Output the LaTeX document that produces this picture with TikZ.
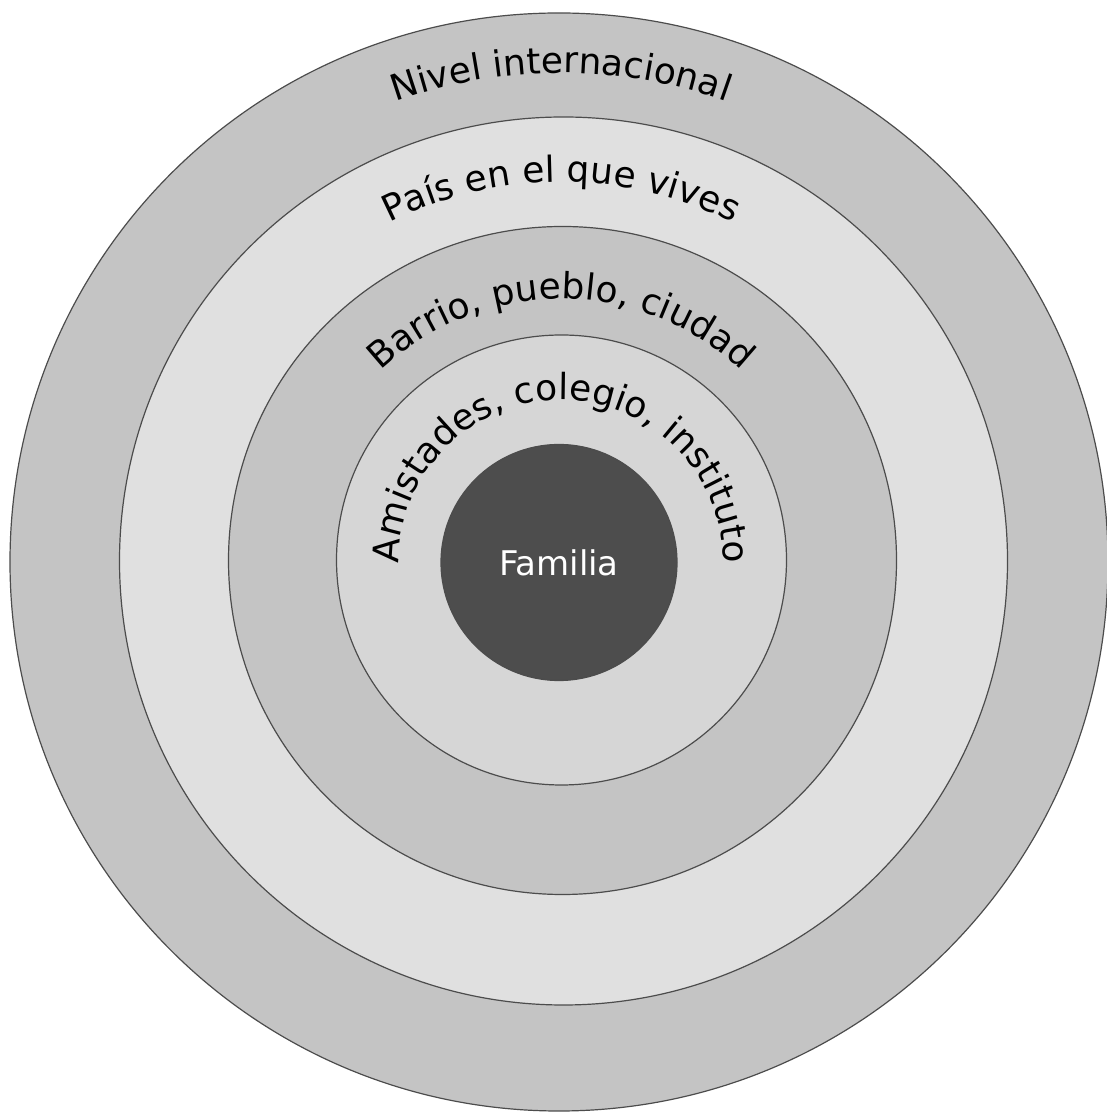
\documentclass[tikz,border=0pt]{standalone}
\usepackage{fontspec}
\setmainfont{DejaVu Sans}
\usepackage{tikz}
\usetikzlibrary{decorations.text}

\definecolor{ringdark}{HTML}{C4C4C4}
\definecolor{ringlight}{HTML}{E0E0E0}
\definecolor{ringmid}{HTML}{D6D6D6}
\definecolor{core}{HTML}{4D4D4D}
\newcommand{\ringfont}{\fontsize{36}{42}\selectfont}
\newcommand{\corefont}{\fontsize{34}{40}\selectfont}

\begin{document}
\begin{tikzpicture}[x=1pt, y=1pt,
        ring/.style={shape=circle, draw=black!70, line width=1.2pt, inner sep=0pt},
        arclabel/.style={decorate, decoration={text along path, text align=center, text={|\ringfont|#1}}}]
        \useasboundingbox (0,0) rectangle (1107,1113);
        % rings, outside in
        \node[ring, fill=ringdark, minimum size=1098] (nivel) at (559,551) {};
        \node[ring, fill=ringlight, minimum size=888] (pais) at (563.5,552) {};
        \node[ring, fill=ringdark, minimum size=668] (barrio) at (562.5,552.5) {};
        \node[ring, fill=ringmid, minimum size=450] (amistades) at (561.5,553) {};
        \node[ring, fill=core, minimum size=236, text=white, font=\corefont] (familia) at (559,550.5) {Familia};
        % curved labels
        \coordinate (c) at (561,551);
        \path[arclabel={Nivel internacional}] (c) ++(180:489) arc[start angle=180, end angle=0, radius=489];
        \path[arclabel={País en el que vives}] (c) ++(180:380) arc[start angle=180, end angle=0, radius=380];
        \path[arclabel={Barrio, pueblo, ciudad}] (c) ++(180:263) arc[start angle=180, end angle=0, radius=263];
        \path[arclabel={Amistades, colegio, instituto}] (c) ++(200:162) arc[start angle=200, end angle=-20, radius=162];
\end{tikzpicture}
\end{document}
